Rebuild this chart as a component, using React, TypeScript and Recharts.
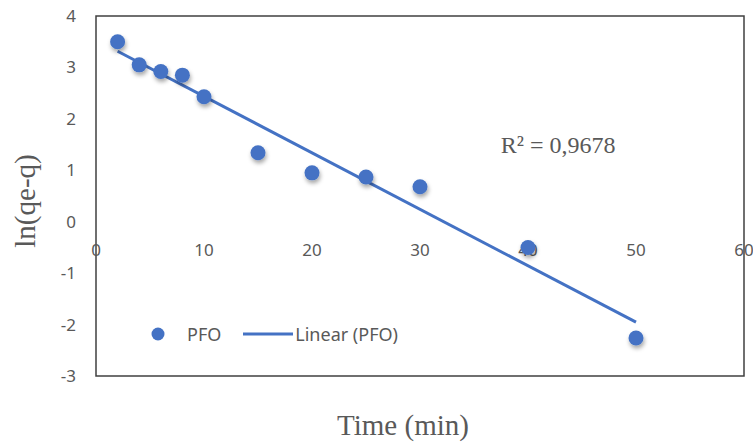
import React from 'react';
import {
  ScatterChart,
  Scatter,
  XAxis,
  YAxis,
  ReferenceArea,
  ReferenceDot,
  Legend,
} from 'recharts';

// ---- data ----
const timeMin = [2, 4, 6, 8, 10, 15, 20, 25, 30, 40, 50];
const lnQeQ = [3.5, 3.05, 2.92, 2.85, 2.43, 1.34, 0.95, 0.87, 0.68, -0.5, -2.26];
const xTicks = [0, 10, 20, 30, 40, 50, 60];
const yTicks = [-3, -2, -1, 0, 1, 2, 3, 4];
const seriesName = 'PFO';
const trendName = 'Linear (PFO)';
const rSquaredText = 'R² = 0,9678';
const rSquaredAt = { x: 42.8, y: 1.49 };
const xTitle = 'Time (min)';
const yTitle = 'ln(qe-q)';

// ---- derived ----
const points = timeMin.map((t, i) => ({ x: t, y: lnQeQ[i] }));
const n = points.length;
const mx = timeMin.reduce((a, b) => a + b, 0) / n;
const my = lnQeQ.reduce((a, b) => a + b, 0) / n;
let sxy = 0;
let sxx = 0;
points.forEach((p) => {
  sxy += (p.x - mx) * (p.y - my);
  sxx += (p.x - mx) * (p.x - mx);
});
const slope = sxy / sxx;
const intercept = my - slope * mx;
const xMin = Math.min(...timeMin);
const xMax = Math.max(...timeMin);
const trend = [
  { x: xMin, y: intercept + slope * xMin },
  { x: xMax, y: intercept + slope * xMax },
];

const BLUE = '#4472C4';
const TEXT = '#595959';
const SANS = '"Noto Sans", "Open Sans", sans-serif';
const SERIF = '"Liberation Serif", "DejaVu Serif", serif';

const Dot = (props: any) => {
  const { cx, cy } = props;
  if (cx == null || cy == null) return <g />;
  return (
    <g>
      <defs>
        <filter id="dotShadow" x="-60%" y="-60%" width="220%" height="220%">
          <feDropShadow dx="1" dy="3" stdDeviation="2" floodColor="#000" floodOpacity="0.35" />
        </filter>
      </defs>
      <circle cx={cx} cy={cy} r={7.5} fill={BLUE} filter="url(#dotShadow)" />
    </g>
  );
};

const NoShape = () => <g />;

const renderLegend = (props: any) => {
  const { payload } = props;
  if (!payload) return null;
  return (
    <div
      style={{
        display: 'flex',
        alignItems: 'center',
        fontFamily: SANS,
        fontSize: 18,
        color: TEXT,
        whiteSpace: 'nowrap',
        height: 24,
      }}
    >
      {payload.map((entry: any, i: number) => {
        const isLine = entry.type === 'line';
        return (
          <div key={i} style={{ display: 'flex', alignItems: 'center', marginRight: 22 }}>
            {isLine ? (
              <svg width={50} height={24} style={{ marginRight: 2 }}>
                <line x1={0} y1={12} x2={50} y2={12} stroke={BLUE} strokeWidth={3} />
              </svg>
            ) : (
              <svg width={14} height={24} style={{ marginRight: 22 }}>
                <circle cx={7} cy={12} r={6.5} fill={BLUE} />
              </svg>
            )}
            <span>{entry.value}</span>
          </div>
        );
      })}
    </div>
  );
};

const XTickLabel = (label: string) => (props: any) => {
  const { cx, cy } = props;
  return (
    <text
      x={cx}
      y={cy + 28}
      textAnchor="middle"
      dominantBaseline="central"
      fill={TEXT}
      fontSize={17}
      fontFamily={SANS}
    >
      {label}
    </text>
  );
};

const RSquared = (props: any) => {
  const { cx, cy } = props;
  return (
    <text
      x={cx}
      y={cy}
      textAnchor="middle"
      dominantBaseline="central"
      fill={TEXT}
      fontSize={24}
      fontFamily={SERIF}
    >
      {rSquaredText}
    </text>
  );
};

const YTitle = (props: any) => {
  const { viewBox } = props;
  const x = viewBox.x + 25;
  const y = viewBox.y + viewBox.height / 2 + 5;
  return (
    <text
      x={x}
      y={y}
      transform={`rotate(-90, ${x}, ${y})`}
      textAnchor="middle"
      dominantBaseline="central"
      fill={TEXT}
      fontSize={29}
      fontFamily={SERIF}
    >
      {yTitle}
    </text>
  );
};

const XTitle = (props: any) => {
  const { viewBox } = props;
  return (
    <text
      x={viewBox.x + viewBox.width / 2 - 17}
      y={viewBox.y + 59}
      textAnchor="middle"
      fill={TEXT}
      fontSize={29}
      fontFamily={SERIF}
    >
      {xTitle}
    </text>
  );
};

export default function App() {
  return (
    <div style={{ position: 'absolute', left: 0, top: 0, background: '#fff' }}>
      <ScatterChart
        width={753}
        height={444}
        margin={{ top: 16, right: 9, bottom: 0, left: 0 }}
      >
        <XAxis
          type="number"
          dataKey="x"
          domain={[0, 60]}
          ticks={xTicks}
          axisLine={false}
          tickLine={false}
          tick={false}
          height={68}
          label={<XTitle />}
        />
        <YAxis
          type="number"
          dataKey="y"
          domain={[-3, 4]}
          ticks={yTicks}
          width={96}
          axisLine={false}
          tickLine={false}
          tickSize={6}
          tickMargin={14}
          tick={{ fill: TEXT, fontSize: 17, fontFamily: SANS }}
          label={<YTitle />}
        />
        <ReferenceArea
          x1={0}
          x2={60}
          y1={-3}
          y2={4}
          fill="none"
          fillOpacity={0}
          stroke="#404040"
          strokeWidth={1.5}
          ifOverflow="visible"
        />
        {xTicks.map((t) => (
          <ReferenceDot
            key={t}
            x={t}
            y={0}
            ifOverflow="visible"
            shape={XTickLabel(String(t))}
          />
        ))}
        <ReferenceDot
          x={rSquaredAt.x}
          y={rSquaredAt.y}
          ifOverflow="visible"
          shape={RSquared}
        />
        <Scatter
          name={trendName}
          data={trend}
          line={{ stroke: BLUE, strokeWidth: 3 }}
          lineType="joint"
          shape={NoShape}
          legendType="line"
          isAnimationActive={false}
        />
        <Scatter
          name={seriesName}
          data={points}
          fill={BLUE}
          shape={Dot}
          legendType="circle"
          isAnimationActive={false}
        />
        <Legend
          layout="horizontal"
          verticalAlign="middle"
          align="center"
          content={renderLegend}
          itemSorter={(item: any) => (item.type === 'line' ? 1 : 0)}
          wrapperStyle={{ left: 151, top: 322, width: 'auto', height: 24 }}
        />
      </ScatterChart>
    </div>
  );
}
